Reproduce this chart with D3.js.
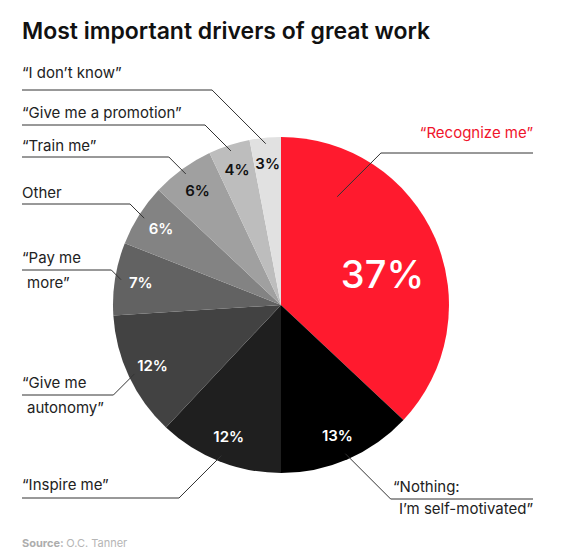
<!DOCTYPE html>
<html>
<head>
<meta charset="utf-8">
<script src="https://cdn.jsdelivr.net/npm/d3@7"></script>
<style>
  body { margin: 0; background: #fff; }
  text { font-family: Inter, "Open Sans", sans-serif; }
</style>
</head>
<body>
<div id="vis-holder"></div>
<script>
// data, clockwise from 12 o'clock
const categories = ["Recognize me", "Nothing: I'm self-motivated", "Inspire me", "Give me autonomy",
                    "Pay me more", "Other", "Train me", "Give me a promotion", "I don't know"];
const labelLines = [["“Recognize me”"], ["“Nothing:", "I’m self-motivated”"], ["“Inspire me”"],
                    ["“Give me", "autonomy”"], ["“Pay me", "more”"], ["Other"], ["“Train me”"],
                    ["“Give me a promotion”"], ["“I don’t know”"]];
const values = [37, 13, 12, 12, 7, 6, 6, 4, 3];

// styling
const sliceColors = ["#ff1a2e", "#000000", "#1f1f1f", "#424242", "#626262", "#838383", "#a0a0a0", "#bdbdbd", "#e1e1e1"];
const pctColors = ["#fff", "#fff", "#fff", "#fff", "#fff", "#fff", "#111", "#111", "#111"];
const labelSide = ["right", "right", "left", "left", "left", "left", "left", "left", "left"];
const leaderY = [153, 499, 498, 395, 270, 204, 157, 125, 90];
const labelDy = [-15, -7, -8, -7, -7, -6, -6, -7, -12];

const width = 561, height = 556;
const cx = 281, cy = 305, radius = 168;

const svg = d3.select("#vis-holder")
  .append("svg")
  .attr("width", width)
  .attr("height", height);

svg.append("text")
  .attr("x", 22)
  .attr("y", 39)
  .attr("font-size", "23px")
  .attr("font-weight", 600)
  .attr("fill", "#111")
  .text("Most important drivers of great work");

const pie = d3.pie().sort(null).value(d => d);
const arcs = pie(values);
const arc = d3.arc().innerRadius(0).outerRadius(radius);

const g = svg.append("g").attr("transform", `translate(${cx},${cy})`);

g.selectAll("path.slice")
  .data(arcs)
  .enter()
  .append("path")
  .attr("class", "slice")
  .attr("d", arc)
  .attr("fill", (d, i) => sliceColors[i]);

function polar(a, r) { return [Math.sin(a) * r, -Math.cos(a) * r]; }

// percentage labels
g.selectAll("text.pct")
  .data(arcs)
  .enter()
  .append("text")
  .attr("class", "pct")
  .attr("transform", (d, i) => {
    const big = i === 0;
    const a = d.startAngle + (d.endAngle - d.startAngle) * (big ? 0.55 : 0.5);
    const p = polar(a, big ? 106 : 142);
    return `translate(${p[0]},${p[1]})`;
  })
  .attr("text-anchor", "middle")
  .attr("dy", "0.36em")
  .attr("font-size", (d, i) => i === 0 ? "38px" : "15px")
  .attr("font-weight", (d, i) => i === 0 ? 500 : 600)
  .attr("fill", (d, i) => pctColors[i])
  .text(d => d.value + "%");

// leader lines + category labels
arcs.forEach((d, i) => {
  const big = i === 0;
  const a = d.startAngle + (d.endAngle - d.startAngle) * (big ? 0.206 : 0.5);
  const p = polar(a, big ? 122 : 162);
  const ex = cx + p[0], ey = cy + p[1];
  const ly = leaderY[i];
  const left = labelSide[i] === "left";
  const elbowX = left ? ex - Math.abs(ey - ly) : ex + Math.abs(ey - ly);
  const farX = left ? 22 : 533;

  svg.append("path")
    .attr("d", d3.line()([[farX, ly], [elbowX, ly], [ex, ey]]))
    .attr("fill", "none")
    .attr("stroke", "#333")
    .attr("stroke-width", 1);

  labelLines[i].forEach((t, j) => {
    const txt = svg.append("text")
      .attr("font-size", "15px")
      .attr("fill", big ? "#f0142b" : "#222")
      .text(t);
    if (left) {
      txt.attr("x", j === 0 ? 22 : 27)
         .attr("y", j === 0 ? ly + labelDy[i] : ly + 18);
    } else if (big) {
      txt.attr("x", 533).attr("text-anchor", "end").attr("y", ly + labelDy[i]);
    } else if (j === 0) {
      txt.attr("x", 393).attr("y", ly + labelDy[i]);
    } else {
      txt.attr("x", 533).attr("text-anchor", "end").attr("y", ly + 15);
    }
  });
});

// source line
const src = svg.append("text")
  .attr("x", 22)
  .attr("y", 547)
  .attr("font-size", "11px");
src.append("tspan").attr("font-weight", 700).attr("fill", "#adadad").text("Source: ");
src.append("tspan").attr("fill", "#b5b5b5").text("O.C. Tanner");
</script>
</body>
</html>
